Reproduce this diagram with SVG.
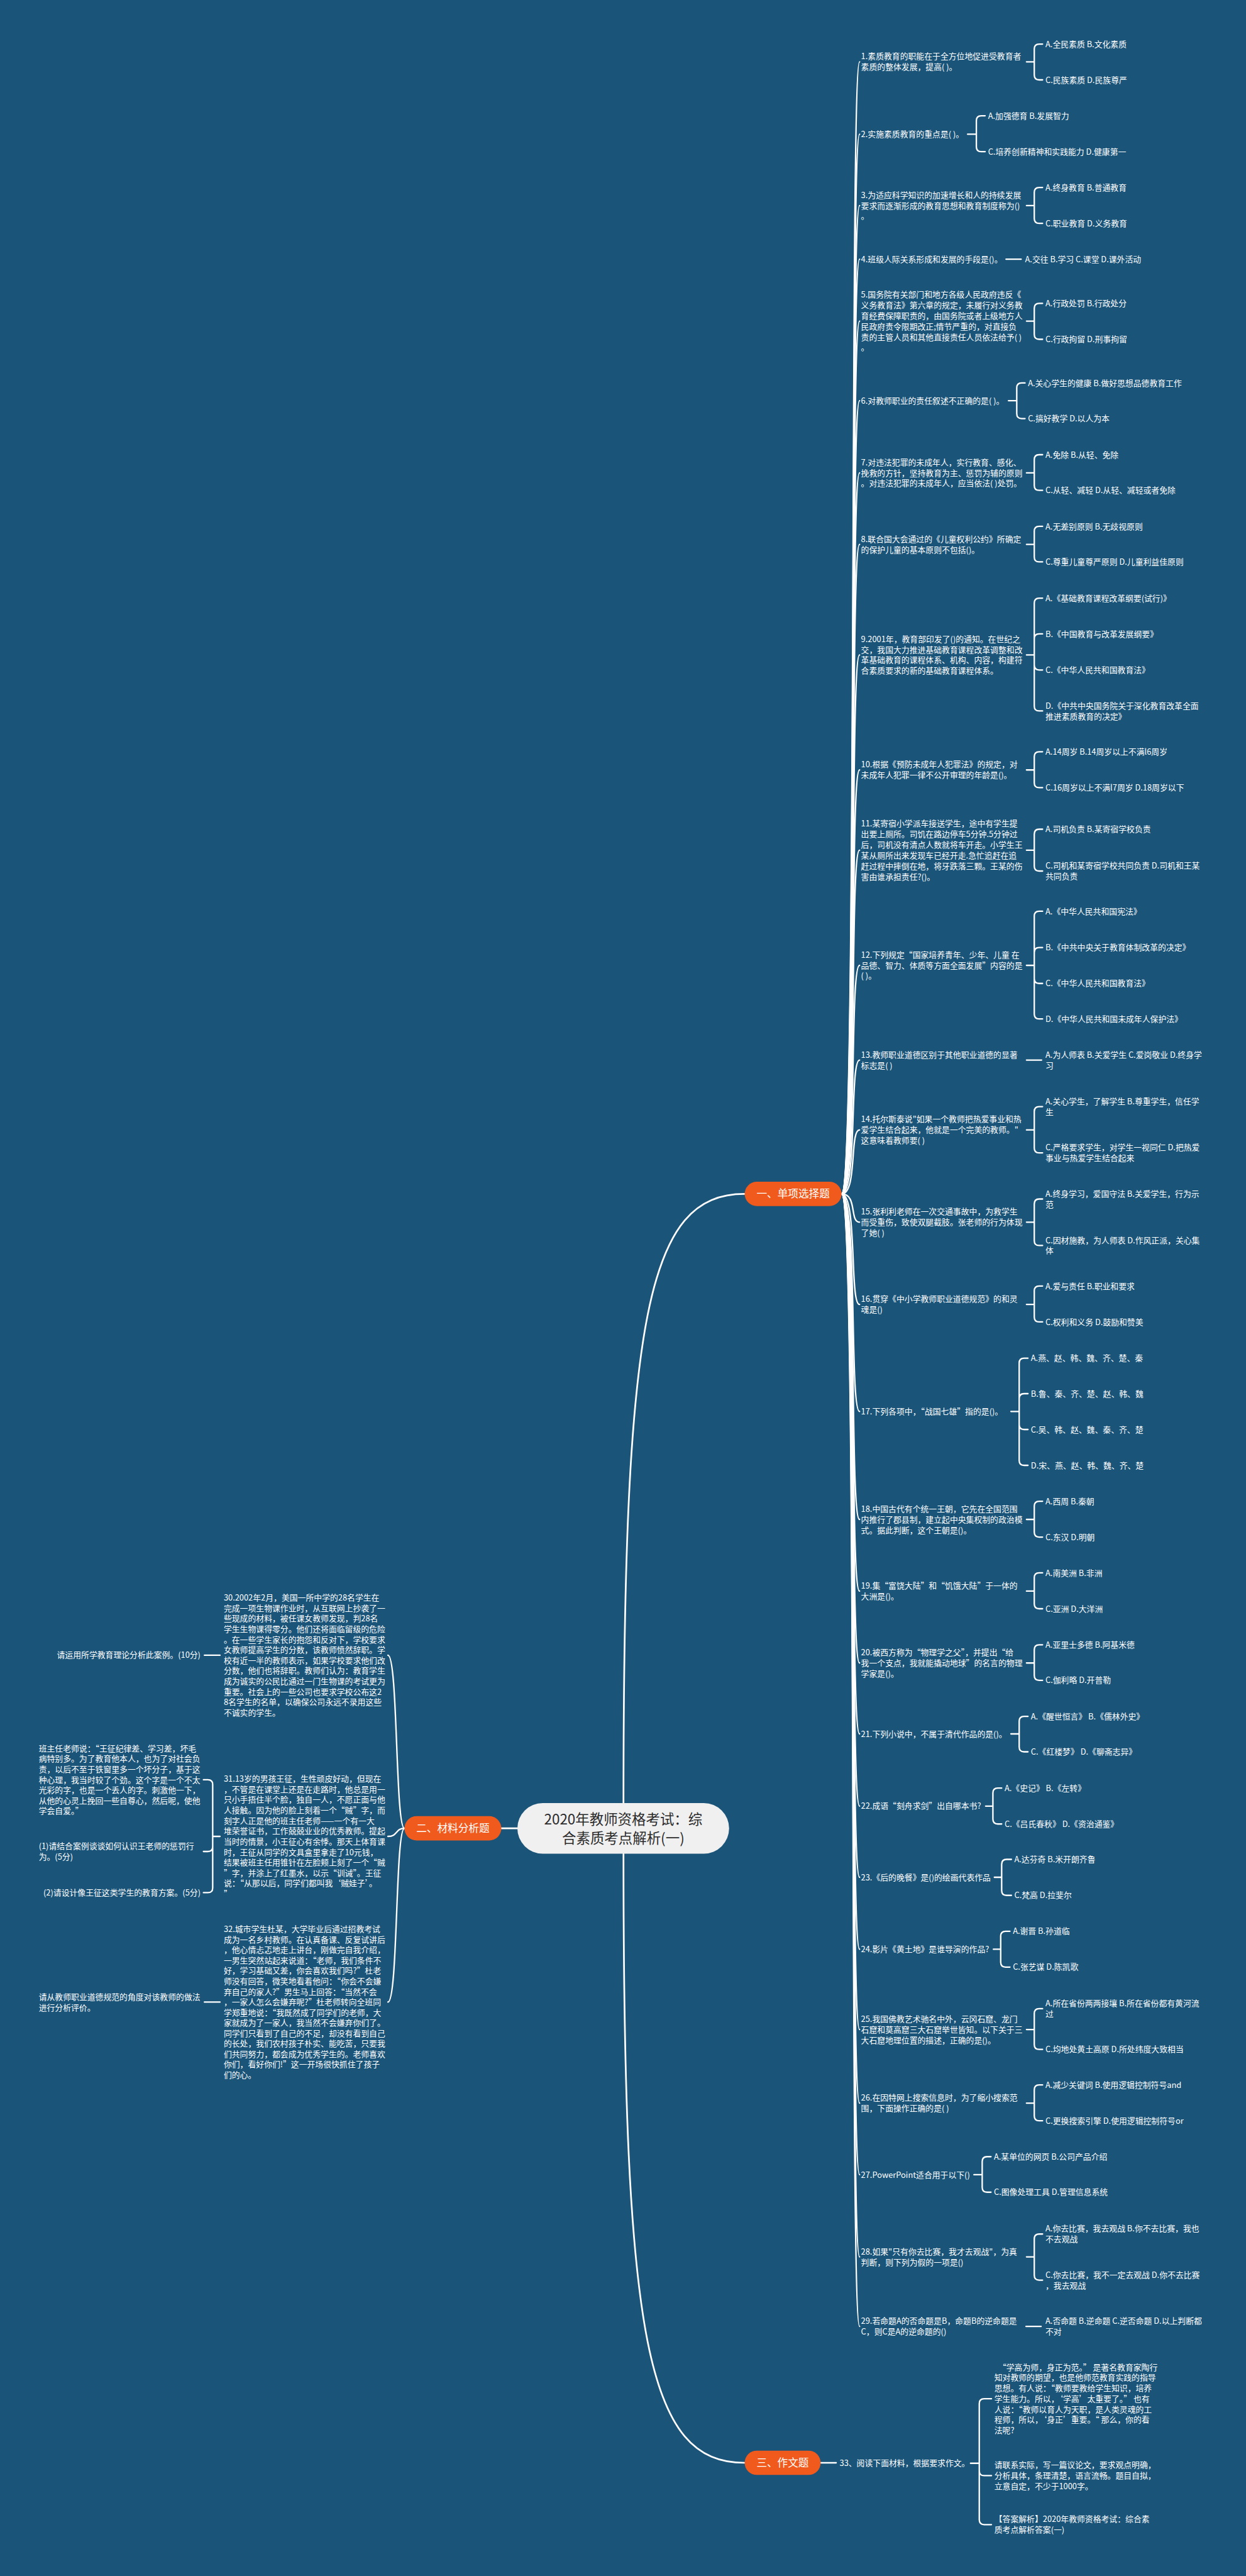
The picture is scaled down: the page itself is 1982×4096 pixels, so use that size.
<svg xmlns="http://www.w3.org/2000/svg" width="1982" height="4096" viewBox="0 0 1982 4096">
<style>
.t{font-family:"Noto Sans CJK SC","Microsoft YaHei",sans-serif;font-size:16.6px;fill:#ffffff}
.e{text-anchor:end}
.br{font-family:"Noto Sans CJK SC","Microsoft YaHei",sans-serif;font-size:21.5px;fill:#ffffff;text-anchor:middle}
.ctr{font-family:"Noto Sans CJK SC","Microsoft YaHei",sans-serif;font-size:29px;fill:#2b2b2b;text-anchor:middle}
.bn{fill:#f05a1c}
.c{fill:none;stroke:#ffffff;stroke-width:3;stroke-linecap:round;stroke-linejoin:round}
.m{fill:none;stroke:#ffffff;stroke-width:3.5;stroke-linecap:round}
</style>
<rect width="1982" height="4096" fill="#1a5479"/>
<g transform="scale(0.77422)">
<g id="connectors">
<path class="m" d="M1281,3703 C1281,2700 1330,2452 1530,2452"/>
<path class="m" d="M1281,3807 C1281,4810 1330,5058 1530,5058"/>
<path class="m" d="M1030,3755 H1063"/>
<g class="c">
<path d="M1729,2452 C1762,2452 1745,127 1766,127"/>
<path d="M1729,2452 C1762,2452 1745,275.7 1766,275.7"/>
<path d="M1729,2452 C1762,2452 1745,422.3 1766,422.3"/>
<path d="M1729,2452 C1762,2452 1745,532.4 1766,532.4"/>
<path d="M1729,2452 C1762,2452 1745,659.5 1766,659.5"/>
<path d="M1729,2452 C1762,2452 1745,823 1766,823"/>
<path d="M1729,2452 C1762,2452 1745,971.2 1766,971.2"/>
<path d="M1729,2452 C1762,2452 1745,1118.1 1766,1118.1"/>
<path d="M1729,2452 C1762,2452 1745,1345.1 1766,1345.1"/>
<path d="M1729,2452 C1762,2452 1745,1581.3 1766,1581.3"/>
<path d="M1729,2452 C1762,2452 1745,1746.1 1766,1746.1"/>
<path d="M1729,2452 C1762,2452 1745,1982.6 1766,1982.6"/>
<path d="M1729,2452 C1762,2452 1745,2177.1 1766,2177.1"/>
<path d="M1729,2452 C1762,2452 1745,2320.6 1766,2320.6"/>
<path d="M1729,2452 C1762,2452 1745,2510 1766,2510"/>
<path d="M1729,2452 C1762,2452 1745,2679.1 1766,2679.1"/>
<path d="M1729,2452 C1762,2452 1745,2898.8 1766,2898.8"/>
<path d="M1729,2452 C1762,2452 1745,3120.6 1766,3120.6"/>
<path d="M1729,2452 C1762,2452 1745,3267.7 1766,3267.7"/>
<path d="M1729,2452 C1762,2452 1745,3415.4 1766,3415.4"/>
<path d="M1729,2452 C1762,2452 1745,3561 1766,3561"/>
<path d="M1729,2452 C1762,2452 1745,3709.3 1766,3709.3"/>
<path d="M1729,2452 C1762,2452 1745,3855.5 1766,3855.5"/>
<path d="M1729,2452 C1762,2452 1745,4003.3 1766,4003.3"/>
<path d="M1729,2452 C1762,2452 1745,4168.2 1766,4168.2"/>
<path d="M1729,2452 C1762,2452 1745,4319.4 1766,4319.4"/>
<path d="M1729,2452 C1762,2452 1745,4466.3 1766,4466.3"/>
<path d="M1729,2452 C1762,2452 1745,4635.1 1766,4635.1"/>
<path d="M1729,2452 C1762,2452 1745,4777.9 1766,4777.9"/>
<!-- option brackets -->
<path d="M2109,127H2125 M2142,90.5H2135Q2125,90.5 2125,100.5V154Q2125,164 2135,164H2142"/>
<path d="M1988,275.7H2006 M2024,237.8H2016Q2006,237.8 2006,247.8V301.5Q2006,311.5 2016,311.5H2024"/>
<path d="M2109,422.3H2125 M2142,385H2135Q2125,385 2125,395V448.8Q2125,458.8 2135,458.8H2142"/>
<path d="M2067,532.4H2098"/>
<path d="M2109,659.5H2125 M2142,623H2135Q2125,623 2125,633V686.8Q2125,696.8 2135,696.8H2142"/>
<path d="M2072,823H2089 M2106,786.5H2099Q2089,786.5 2089,796.5V849.7Q2089,859.7 2099,859.7H2106"/>
<path d="M2109,971.2H2125 M2142,933.8H2135Q2125,933.8 2125,943.8V997Q2125,1007 2135,1007H2142"/>
<path d="M2109,1118.1H2125 M2142,1081H2135Q2125,1081 2125,1091V1144Q2125,1154 2135,1154H2142"/>
<path d="M2109,1345.1H2125 M2142,1228.4H2135Q2125,1228.4 2125,1238.4V1450.1Q2125,1460.1 2135,1460.1H2142 M2125,1311.9Q2125,1301.9 2135,1301.9H2142 M2125,1366Q2125,1376 2135,1376H2142"/>
<path d="M2109,1581.3H2125 M2142,1543.9H2135Q2125,1543.9 2125,1553.9V1607.6Q2125,1617.6 2135,1617.6H2142"/>
<path d="M2109,1746.1H2125 M2142,1703H2135Q2125,1703 2125,1713V1778.9Q2125,1788.9 2135,1788.9H2142"/>
<path d="M2109,1982.6H2125 M2142,1871.4H2135Q2125,1871.4 2125,1881.4V2082.6Q2125,2092.6 2135,2092.6H2142 M2125,1956Q2125,1946 2135,1946H2142 M2125,2009.8Q2125,2019.8 2135,2019.8H2142"/>
<path d="M2109,2177.1H2140"/>
<path d="M2109,2320.6H2125 M2142,2272.7H2135Q2125,2272.7 2125,2282.7V2357.8Q2125,2367.8 2135,2367.8H2142"/>
<path d="M2109,2510H2125 M2142,2462.5H2135Q2125,2462.5 2125,2472.5V2548Q2125,2558 2135,2558H2142"/>
<path d="M2109,2679.1H2125 M2142,2641.2H2135Q2125,2641.2 2125,2651.2V2704.9Q2125,2714.9 2135,2714.9H2142"/>
<path d="M2077,2898.8H2094 M2112,2789.4H2104Q2094,2789.4 2094,2799.4V2999.5Q2094,3009.5 2104,3009.5H2112 M2094,2872.2Q2094,2862.2 2104,2862.2H2112 M2094,2925.9Q2094,2935.9 2104,2935.9H2112"/>
<path d="M2109,3120.6H2125 M2142,3083.2H2135Q2125,3083.2 2125,3093.2V3146.8Q2125,3156.8 2135,3156.8H2142"/>
<path d="M2109,3267.7H2125 M2142,3230.3H2135Q2125,3230.3 2125,3240.3V3294Q2125,3304 2135,3304H2142"/>
<path d="M2109,3415.4H2125 M2142,3378H2135Q2125,3378 2125,3388V3441Q2125,3451 2135,3451H2142"/>
<path d="M2077,3561H2094 M2112,3525H2104Q2094,3525 2094,3535V3587.8Q2094,3597.8 2104,3597.8H2112"/>
<path d="M2025,3709.3H2040 M2058,3672.3H2050Q2040,3672.3 2040,3682.3V3736Q2040,3746 2050,3746H2058"/>
<path d="M2043,3855.5H2058 M2078,3818.7H2068Q2058,3818.7 2058,3828.7V3882.6Q2058,3892.6 2068,3892.6H2078"/>
<path d="M2041,4003.3H2056 M2075,3966.3H2066Q2056,3966.3 2056,3976.3V4030Q2056,4040 2066,4040H2075"/>
<path d="M2109,4168.2H2125 M2142,4125.3H2135Q2125,4125.3 2125,4135.3V4199Q2125,4209 2135,4209H2142"/>
<path d="M2109,4319.4H2125 M2142,4282H2135Q2125,4282 2125,4292V4345.6Q2125,4355.6 2135,4355.6H2142"/>
<path d="M2001,4466.3H2018 M2036,4429.3H2028Q2018,4429.3 2018,4439.3V4492.3Q2018,4502.3 2028,4502.3H2036"/>
<path d="M2109,4635.1H2125 M2142,4588.2H2135Q2125,4588.2 2125,4598.2V4672.9Q2125,4682.9 2135,4682.9H2142"/>
<path d="M2108,4777.9H2139"/>
<!-- essay -->
<path d="M1686,5058H1718"/>
<path d="M1994,5059H2012 M2037,4926.5H2022Q2012,4926.5 2012,4936.5V5175Q2012,5185 2022,5185H2037 M2012,5074.4Q2012,5084.4 2022,5084.4H2037"/>
<!-- material -->
<path d="M831,3755 C812,3755 818,3399.4 797,3399.4"/>
<path d="M831,3755 C812,3755 818,3771.5 797,3771.5"/>
<path d="M831,3755 C812,3755 818,4111.8 797,4111.8"/>
<path d="M452,3399.4H420"/>
<path d="M452,3771.5H437 M418,3655.2H427Q437,3655.2 437,3665.2V3877Q437,3887 427,3887H418 M437,3792.5Q437,3802.5 427,3802.5H418"/>
<path d="M452,4111.8H420"/>
</g>
</g>

<g id="root">
<rect x="1063" y="3703" width="435" height="104" rx="52" fill="#f0f0f0"/>
<text class="ctr"><tspan x="1280.5" y="3747">2020年教师资格考试：综</tspan><tspan x="1280.5" y="3785.5">合素质考点解析(一)</tspan></text>
</g>
<g id="branch1"><rect class="bn" x="1530" y="2427" width="199" height="50" rx="25"/><text class="br" x="1629.5" y="2459.7">一、单项选择题</text></g>
<g id="branch2"><rect class="bn" x="831" y="3730" width="199" height="50" rx="25"/><text class="br" x="930.5" y="3762.7">二、材料分析题</text></g>
<g id="branch3"><rect class="bn" x="1530" y="5033" width="156" height="50" rx="25"/><text class="br" x="1608" y="5065.7">三、作文题</text></g>

<g class="t">
<g id="q1"><text><tspan x="1769" y="122">1.素质教育的职能在于全方位地促进受教育者</tspan><tspan x="1769" y="143.8">素质的整体发展，提高( )。</tspan></text></g>
<g id="q1a"><text x="2148" y="96.5">A.全民素质 B.文化素质</text></g>
<g id="q1c"><text x="2148" y="170">C.民族素质 D.民族尊严</text></g>

<g id="q2"><text x="1769" y="281.7">2.实施素质教育的重点是( )。</text></g>
<g id="q2a"><text x="2030" y="243.8">A.加强德育 B.发展智力</text></g>
<g id="q2c"><text x="2030" y="317.5">C.培养创新精神和实践能力 D.健康第一</text></g>

<g id="q3"><text><tspan x="1769" y="406.5">3.为适应科学知识的加速增长和人的持续发展</tspan><tspan x="1769" y="428.3">要求而逐渐形成的教育思想和教育制度称为()</tspan><tspan x="1769" y="450.1">。</tspan></text></g>
<g id="q3a"><text x="2148" y="391">A.终身教育 B.普通教育</text></g>
<g id="q3c"><text x="2148" y="464.8">C.职业教育 D.义务教育</text></g>

<g id="q4"><text x="1769" y="538.4">4.班级人际关系形成和发展的手段是()。</text></g>
<g id="q4a"><text x="2106" y="538.4">A.交往 B.学习 C.课堂 D.课外活动</text></g>

<g id="q5"><text><tspan x="1769" y="611">5.国务院有关部门和地方各级人民政府违反《</tspan><tspan x="1769" y="632.8">义务教育法》第六章的规定，未履行对义务教</tspan><tspan x="1769" y="654.6">育经费保障职责的，由国务院或者上级地方人</tspan><tspan x="1769" y="676.4">民政府责令限期改正;情节严重的，对直接负</tspan><tspan x="1769" y="698.2">责的主管人员和其他直接责任人员依法给予( )</tspan><tspan x="1769" y="720">。</tspan></text></g>
<g id="q5a"><text x="2148" y="629">A.行政处罚 B.行政处分</text></g>
<g id="q5c"><text x="2148" y="702.8">C.行政拘留 D.刑事拘留</text></g>

<g id="q6"><text x="1769" y="829">6.对教师职业的责任叙述不正确的是( )。</text></g>
<g id="q6a"><text x="2112" y="792.5">A.关心学生的健康 B.做好思想品德教育工作</text></g>
<g id="q6c"><text x="2112" y="865.7">C.搞好教学 D.以人为本</text></g>

<g id="q7"><text><tspan x="1769" y="955.4">7.对违法犯罪的未成年人，实行教育、感化、</tspan><tspan x="1769" y="977.2">挽救的方针，坚持教育为主、惩罚为辅的原则</tspan><tspan x="1769" y="999">。对违法犯罪的未成年人，应当依法( )处罚。</tspan></text></g>
<g id="q7a"><text x="2148" y="939.8">A.免除 B.从轻、免除</text></g>
<g id="q7c"><text x="2148" y="1013">C.从轻、减轻 D.从轻、减轻或者免除</text></g>

<g id="q8"><text><tspan x="1769" y="1113.2">8.联合国大会通过的《儿童权利公约》所确定</tspan><tspan x="1769" y="1135">的保护儿童的基本原则不包括()。</tspan></text></g>
<g id="q8a"><text x="2148" y="1087">A.无差别原则 B.无歧视原则</text></g>
<g id="q8c"><text x="2148" y="1160">C.尊重儿童尊严原则 D.儿童利益佳原则</text></g>

<g id="q9"><text><tspan x="1769" y="1318.4">9.2001年，教育部印发了()的通知。在世纪之</tspan><tspan x="1769" y="1340.2">交，我国大力推进基础教育课程改革调整和改</tspan><tspan x="1769" y="1362">革基础教育的课程体系、机构、内容，构建符</tspan><tspan x="1769" y="1383.8">合素质要求的新的基础教育课程体系。</tspan></text></g>
<g id="q9a"><text x="2148" y="1234.4">A.《基础教育课程改革纲要(试行)》</text></g>
<g id="q9b"><text x="2148" y="1307.9">B.《中国教育与改革发展纲要》</text></g>
<g id="q9c"><text x="2148" y="1382">C.《中华人民共和国教育法》</text></g>
<g id="q9d"><text><tspan x="2148" y="1455.2">D.《中共中央国务院关于深化教育改革全面</tspan><tspan x="2148" y="1477">推进素质教育的决定》</tspan></text></g>

<g id="q10"><text><tspan x="1769" y="1576.4">10.根据《预防未成年人犯罪法》的规定，对</tspan><tspan x="1769" y="1598.2">未成年人犯罪一律不公开审理的年龄是()。</tspan></text></g>
<g id="q10a"><text x="2148" y="1549.9">A.14周岁 B.14周岁以上不满l6周岁</text></g>
<g id="q10c"><text x="2148" y="1623.6">C.16周岁以上不满l7周岁 D.18周岁以下</text></g>

<g id="q11"><text><tspan x="1769" y="1697.6">11.某寄宿小学派车接送学生，途中有学生提</tspan><tspan x="1769" y="1719.4">出要上厕所。司饥在路边停车5分钟.5分钟过</tspan><tspan x="1769" y="1741.2">后，司机没有清点人数就将车开走。小学生王</tspan><tspan x="1769" y="1763">某从厕所出来发现车已经开走.急忙追赶在追</tspan><tspan x="1769" y="1784.8">赶过程中摔倒在地，将牙跌落三颗。王某的伤</tspan><tspan x="1769" y="1806.6">害由谁承担责任?()。</tspan></text></g>
<g id="q11a"><text x="2148" y="1709">A.司机负责 B.某寄宿学校负责</text></g>
<g id="q11c"><text><tspan x="2148" y="1784">C.司机和某寄宿学校共同负责 D.司机和王某</tspan><tspan x="2148" y="1805.8">共同负责</tspan></text></g>

<g id="q12"><text><tspan x="1769" y="1966.8">12.下列规定“国家培养青年、少年、儿童 在</tspan><tspan x="1769" y="1988.6">品德、智力、体质等方面全面发展”内容的是</tspan><tspan x="1769" y="2010.4">( )。</tspan></text></g>
<g id="q12a"><text x="2148" y="1877.4">A.《中华人民共和国宪法》</text></g>
<g id="q12b"><text x="2148" y="1952">B.《中共中央关于教育体制改革的决定》</text></g>
<g id="q12c"><text x="2148" y="2025.8">C.《中华人民共和国教育法》</text></g>
<g id="q12d"><text x="2148" y="2098.6">D.《中华人民共和国未成年人保护法》</text></g>

<g id="q13"><text><tspan x="1769" y="2172.2">13.教师职业道德区别于其他职业道德的显著</tspan><tspan x="1769" y="2194">标志是( )</tspan></text></g>
<g id="q13a"><text><tspan x="2148" y="2172.2">A.为人师表 B.关爱学生 C.爱岗敬业 D.终身学</tspan><tspan x="2148" y="2194">习</tspan></text></g>

<g id="q14"><text><tspan x="1769" y="2304.8">14.托尔斯泰说"如果一个教师把热爱事业和热</tspan><tspan x="1769" y="2326.6">爱学生结合起来，他就是一个完美的教师。"</tspan><tspan x="1769" y="2348.4">这意味着教师要( )</tspan></text></g>
<g id="q14a"><text><tspan x="2148" y="2267.8">A.关心学生，了解学生 B.尊重学生，信任学</tspan><tspan x="2148" y="2289.6">生</tspan></text></g>
<g id="q14c"><text><tspan x="2148" y="2362.9">C.严格要求学生，对学生一视同仁 D.把热爱</tspan><tspan x="2148" y="2384.7">事业与热爱学生结合起来</tspan></text></g>

<g id="q15"><text><tspan x="1769" y="2494.2">15.张利利老师在一次交通事故中，为救学生</tspan><tspan x="1769" y="2516">而受重伤，致使双腿截肢。张老师的行为体现</tspan><tspan x="1769" y="2537.8">了她( )</tspan></text></g>
<g id="q15a"><text><tspan x="2148" y="2457.6">A.终身学习，爱国守法 B.关爱学生，行为示</tspan><tspan x="2148" y="2479.4">范</tspan></text></g>
<g id="q15c"><text><tspan x="2148" y="2553">C.因材施教，为人师表 D.作风正派，关心集</tspan><tspan x="2148" y="2574.8">体</tspan></text></g>

<g id="q16"><text><tspan x="1769" y="2674.2">16.贯穿《中小学教师职业道德规范》的和灵</tspan><tspan x="1769" y="2696">魂是()</tspan></text></g>
<g id="q16a"><text x="2148" y="2647.2">A.爱与责任 B.职业和要求</text></g>
<g id="q16c"><text x="2148" y="2720.9">C.权利和义务 D.鼓励和赞美</text></g>

<g id="q17"><text x="1769" y="2904.8">17.下列各项中，“战国七雄”指的是()。</text></g>
<g id="q17a"><text x="2118" y="2795.4">A.燕、赵、韩、魏、齐、楚、秦</text></g>
<g id="q17b"><text x="2118" y="2868.2">B.鲁、秦、齐、楚、赵、韩、魏</text></g>
<g id="q17c"><text x="2118" y="2941.9">C.吴、韩、赵、魏、秦、齐、楚</text></g>
<g id="q17d"><text x="2118" y="3015.5">D.宋、燕、赵、韩、魏、齐、楚</text></g>

<g id="q18"><text><tspan x="1769" y="3104.8">18.中国古代有个统一王朝，它先在全国范围</tspan><tspan x="1769" y="3126.6">内推行了郡县制，建立起中央集权制的政治模</tspan><tspan x="1769" y="3148.4">式。据此判断，这个王朝是()。</tspan></text></g>
<g id="q18a"><text x="2148" y="3089.2">A.西周 B.秦朝</text></g>
<g id="q18c"><text x="2148" y="3162.8">C.东汉 D.明朝</text></g>

<g id="q19"><text><tspan x="1769" y="3262.8">19.集“富饶大陆”和“饥饿大陆”于一体的</tspan><tspan x="1769" y="3284.6">大洲是()。</tspan></text></g>
<g id="q19a"><text x="2148" y="3236.3">A.南美洲 B.非洲</text></g>
<g id="q19c"><text x="2148" y="3310">C.亚洲 D.大洋洲</text></g>

<g id="q20"><text><tspan x="1769" y="3399.6">20.被西方称为“物理学之父”，并提出“给</tspan><tspan x="1769" y="3421.4">我一个支点，我就能撬动地球”的名言的物理</tspan><tspan x="1769" y="3443.2">学家是()。</tspan></text></g>
<g id="q20a"><text x="2148" y="3384">A.亚里士多德 B.阿基米德</text></g>
<g id="q20c"><text x="2148" y="3457">C.伽利略 D.开普勒</text></g>

<g id="q21"><text x="1769" y="3567">21.下列小说中，不属于清代作品的是()。</text></g>
<g id="q21a"><text x="2118" y="3531">A.《醒世恒言》 B.《儒林外史》</text></g>
<g id="q21c"><text x="2118" y="3603.8">C.《红楼梦》 D.《聊斋志异》</text></g>

<g id="q22"><text x="1769" y="3715.3">22.成语“刻舟求剑”出自哪本书?</text></g>
<g id="q22a"><text x="2064" y="3678.3">A.《史记》 B.《左转》</text></g>
<g id="q22c"><text x="2064" y="3752">C.《吕氏春秋》 D.《资治通鉴》</text></g>

<g id="q23"><text x="1769" y="3861.5">23.《后的晚餐》是()的绘画代表作品</text></g>
<g id="q23a"><text x="2084" y="3824.7">A.达芬奇 B.米开朗齐鲁</text></g>
<g id="q23c"><text x="2084" y="3898.6">C.梵高 D.拉斐尔</text></g>

<g id="q24"><text x="1769" y="4009.3">24.影片《黄土地》是谁导演的作品?</text></g>
<g id="q24a"><text x="2081" y="3972.3">A.谢晋 B.孙道临</text></g>
<g id="q24c"><text x="2081" y="4046">C.张艺谋 D.陈凯歌</text></g>

<g id="q25"><text><tspan x="1769" y="4152.4">25.我国佛教艺术驰名中外，云冈石窟、龙门</tspan><tspan x="1769" y="4174.2">石窟和莫高窟三大石窟举世皆知。以下关于三</tspan><tspan x="1769" y="4196">大石窟地理位置的描述，正确的是()。</tspan></text></g>
<g id="q25a"><text><tspan x="2148" y="4120.4">A.所在省份两两接壤 B.所在省份都有黄河流</tspan><tspan x="2148" y="4142.2">过</tspan></text></g>
<g id="q25c"><text x="2148" y="4215">C.均地处黄土高原 D.所处纬度大致相当</text></g>

<g id="q26"><text><tspan x="1769" y="4314.5">26.在因特网上搜索信息时，为了缩小搜索范</tspan><tspan x="1769" y="4336.3">围，下面操作正确的是( )</tspan></text></g>
<g id="q26a"><text x="2148" y="4288">A.减少关键词 B.使用逻辑控制符号and</text></g>
<g id="q26c"><text x="2148" y="4361.6">C.更换搜索引擎 D.使用逻辑控制符号or</text></g>

<g id="q27"><text x="1769" y="4472.3">27.PowerPoint适合用于以下()</text></g>
<g id="q27a"><text x="2042" y="4435.3">A.某单位的网页 B.公司产品介绍</text></g>
<g id="q27c"><text x="2042" y="4508.3">C.图像处理工具 D.管理信息系统</text></g>

<g id="q28"><text><tspan x="1769" y="4630.2">28.如果"只有你去比赛，我才去观战"，为真</tspan><tspan x="1769" y="4652">判断，则下列为假的一项是()</tspan></text></g>
<g id="q28a"><text><tspan x="2148" y="4583.3">A.你去比赛，我去观战 B.你不去比赛，我也</tspan><tspan x="2148" y="4605.1">不去观战</tspan></text></g>
<g id="q28c"><text><tspan x="2148" y="4678">C.你去比赛，我不一定去观战 D.你不去比赛</tspan><tspan x="2148" y="4699.8">，我去观战</tspan></text></g>

<g id="q29"><text><tspan x="1769" y="4773">29.若命题A的否命题是B，命题B的逆命题是</tspan><tspan x="1769" y="4794.8">C，则C是A的逆命题的()</tspan></text></g>
<g id="q29a"><text><tspan x="2148" y="4773">A.否命题 B.逆命题 C.逆否命题 D.以上判断都</tspan><tspan x="2148" y="4794.8">不对</tspan></text></g>

<g id="q33"><text x="1725" y="5065">33、阅读下面材料，根据要求作文。</text></g>
<g id="q33a"><text><tspan x="2051" y="4867.7">“学高为师，身正为范。” 是著名教育家陶行</tspan><tspan x="2043" y="4889.3">知对教师的期望，也是他师范教育实践的指导</tspan><tspan x="2043" y="4910.9">思想。有人说：“教师要教给学生知识，培养</tspan><tspan x="2043" y="4932.5">学生能力。所以，‘学高’太重要了。” 也有</tspan><tspan x="2043" y="4954.1">人说：“教师以育人为天职，是人类灵魂的工</tspan><tspan x="2043" y="4975.7">程师，所以，‘身正’重要。“ 那么，你的看</tspan><tspan x="2043" y="4997.3">法呢?</tspan></text></g>
<g id="q33b"><text><tspan x="2043" y="5068.6">请联系实际，写一篇议论文，要求观点明确，</tspan><tspan x="2043" y="5090.4">分析具体，条理清楚，语言流畅。题目自拟，</tspan><tspan x="2043" y="5112.2">立意自定，不少于1000字。</tspan></text></g>
<g id="q33c"><text><tspan x="2043" y="5180">【答案解析】2020年教师资格考试：综合素</tspan><tspan x="2043" y="5201.8">质考点解析答案(一)</tspan></text></g>

<g id="q30"><text><tspan x="459.7" y="3287.4">30.2002年2月，美国一所中学的28名学生在</tspan><tspan x="459.7" y="3308.9">完成一项生物课作业时，从互联网上抄袭了一</tspan><tspan x="459.7" y="3330.3">些现成的材料，被任课女教师发现，判28名</tspan><tspan x="459.7" y="3351.8">学生生物课得零分。他们还将面临留级的危险</tspan><tspan x="459.7" y="3373.2">。在一些学生家长的抱怨和反对下，学校要求</tspan><tspan x="459.7" y="3394.7">女教师提高学生的分数，该教师愤然辞职。学</tspan><tspan x="459.7" y="3416.1">校有近一半的教师表示，如果学校要求他们改</tspan><tspan x="459.7" y="3437.6">分数，他们也将辞职。教师们认为：教育学生</tspan><tspan x="459.7" y="3459">成为诚实的公民比通过一门生物课的考试更为</tspan><tspan x="459.7" y="3480.5">重要。社会上的一些公司也要求学校公布这2</tspan><tspan x="459.7" y="3501.9">8名学生的名单，以确保公司永远不录用这些</tspan><tspan x="459.7" y="3523.4">不诚实的学生。</tspan></text></g>
<g id="q30a"><text class="e" x="412" y="3405.3">请运用所学教育理论分析此案例。(10分)</text></g>

<g id="q31"><text><tspan x="459.7" y="3659.5">31.13岁的男孩王征，生性顽皮好动，但现在</tspan><tspan x="459.7" y="3681">，不管是在课堂上还是在走路时，他总是用一</tspan><tspan x="459.7" y="3702.4">只小手捂住半个脸，独自一人，不愿正面与他</tspan><tspan x="459.7" y="3723.9">人接触。因为他的脸上刻着一个“贼”字，而</tspan><tspan x="459.7" y="3745.3">刻字人正是他的班主任老师——一个有一大</tspan><tspan x="459.7" y="3766.8">堆荣誉证书，工作兢兢业业的优秀教师。提起</tspan><tspan x="459.7" y="3788.2">当时的情景，小王征心有余悸。那天上体育课</tspan><tspan x="459.7" y="3809.7">时，王征从同学的文具盒里拿走了10元钱，</tspan><tspan x="459.7" y="3831.1">结果被班主任用锥针在左脸颊上刻了一个“贼</tspan><tspan x="459.7" y="3852.6">”字，并涂上了红墨水，以示“训诫”。王征</tspan><tspan x="459.7" y="3874">说：“从那以后，同学们都叫我‘贼娃子’。</tspan><tspan x="459.7" y="3895.5">”</tspan></text></g>
<g id="q31a"><text><tspan x="79.6" y="3597">班主任老师说：“王征纪律差、学习差，坏毛</tspan><tspan x="79.6" y="3618.4">病特别多。为了教育他本人，也为了对社会负</tspan><tspan x="79.6" y="3639.8">责，以后不至于铁窗里多一个坏分子，基于这</tspan><tspan x="79.6" y="3661.2">种心理，我当时较了个劲。这个字是一个不太</tspan><tspan x="79.6" y="3682.6">光彩的字，也是一个丢人的字。刺激他一下，</tspan><tspan x="79.6" y="3704">从他的心灵上挽回一些自尊心，然后呢，使他</tspan><tspan x="79.6" y="3725.4">学会自爱。”</tspan></text></g>
<g id="q31b"><text><tspan x="79.6" y="3797.8">(1)请结合案例谈谈如何认识王老师的惩罚行</tspan><tspan x="79.6" y="3819.2">为。(5分)</tspan></text></g>
<g id="q31c"><text class="e" x="412" y="3893">(2)请设计像王征这类学生的教育方案。(5分)</text></g>

<g id="q32"><text><tspan x="459.7" y="3968">32.城市学生杜某，大学毕业后通过招教考试</tspan><tspan x="459.7" y="3989.4">成为一名乡村教师。在认真备课、反复试讲后</tspan><tspan x="459.7" y="4010.8">，他心情忐忑地走上讲台，刚做完自我介绍，</tspan><tspan x="459.7" y="4032.2">一男生突然站起来说道：“老师，我们条件不</tspan><tspan x="459.7" y="4053.6">好，学习基础又差，你会喜欢我们吗?”杜老</tspan><tspan x="459.7" y="4075">师没有回答，微笑地看着他问：“你会不会嫌</tspan><tspan x="459.7" y="4096.4">弃自己的家人?”男生马上回答：“当然不会</tspan><tspan x="459.7" y="4117.8">，一家人怎么会嫌弃呢?”杜老师转向全班同</tspan><tspan x="459.7" y="4139.2">学郑重地说：“我既然成了同学们的老师，大</tspan><tspan x="459.7" y="4160.6">家就成为了一家人，我当然不会嫌弃你们了。</tspan><tspan x="459.7" y="4182">同学们只看到了自己的不足，却没有看到自己</tspan><tspan x="459.7" y="4203.4">的长处，我们农村孩子朴实、能吃苦，只要我</tspan><tspan x="459.7" y="4224.8">们共同努力，都会成为优秀学生的。老师喜欢</tspan><tspan x="459.7" y="4246.2">你们，看好你们!”这一开场很快抓住了孩子</tspan><tspan x="459.7" y="4267.6">们的心。</tspan></text></g>
<g id="q32a"><text><tspan x="79.6" y="4107.4">请从教师职业道德规范的角度对该教师的做法</tspan><tspan x="79.6" y="4128.8">进行分析评价。</tspan></text></g>
</g>
</g>
</svg>
